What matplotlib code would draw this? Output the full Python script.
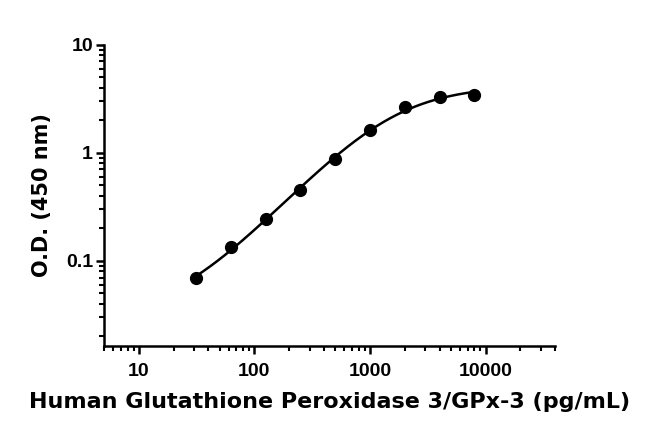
import numpy as np
import matplotlib
matplotlib.use("Agg")
import matplotlib.pyplot as plt
from matplotlib.ticker import LogLocator, FixedLocator, NullFormatter

# standard concentrations (pg/mL) and mean O.D. readings
conc = [31.25, 62.5, 125, 250, 500, 1000, 2000, 4000, 8000]
od = [0.070, 0.133, 0.246, 0.454, 0.867, 1.62, 2.63, 3.25, 3.44]

x_ticks = [10, 100, 1000, 10000]
x_tick_labels = ["10", "100", "1000", "10000"]
y_ticks = [0.1, 1, 10]
y_tick_labels = ["0.1", "1", "10"]

xlabel = "Human Glutathione Peroxidase 3/GPx-3 (pg/mL)"
ylabel = "O.D. (450 nm)"


def four_pl(x, p):
    a, b, c, d = p
    return d + (a - d) / (1.0 + (x / c) ** b)


def fit_four_pl(x, y, p0, n_iter=200):
    # small Levenberg-Marquardt on log residuals
    p = np.array(p0, dtype=float)
    lam = 1e-2
    def resid(q):
        return np.log10(four_pl(x, q)) - np.log10(y)
    r = resid(p)
    for _ in range(n_iter):
        J = np.empty((len(x), len(p)))
        for k in range(len(p)):
            dp = np.zeros_like(p)
            dp[k] = 1e-6 * max(abs(p[k]), 1e-3)
            J[:, k] = (resid(p + dp) - r) / dp[k]
        A = J.T @ J
        g = J.T @ r
        step = np.linalg.solve(A + lam * np.diag(np.diag(A)), -g)
        p_new = p + step
        if p_new[0] > 0 and p_new[2] > 0 and p_new[3] > 0:
            r_new = resid(p_new)
            if np.sum(r_new ** 2) < np.sum(r ** 2):
                p, r = p_new, r_new
                lam *= 0.3
                continue
        lam *= 10
    return p


x = np.array(conc)
y = np.array(od)
params = fit_four_pl(x, y, [0.02, 1.0, 1000.0, 4.5])

fig = plt.figure(figsize=(6.5, 4.37), dpi=100)
ax = fig.add_axes([0.16, 0.208, 0.694, 0.69])

xs = np.logspace(np.log10(x.min()), np.log10(x.max()), 300)
ax.plot(xs, four_pl(xs, params), color="black", lw=1.8, zorder=2)
ax.plot(conc, od, "o", color="black", ms=8.5, zorder=3)

ax.set_xscale("log")
ax.set_yscale("log")
ax.set_xlim(5, 40000)
ax.set_ylim(0.0163, 10)

for side in ["top", "right"]:
    ax.spines[side].set_visible(False)
for side in ["left", "bottom"]:
    ax.spines[side].set_linewidth(1.8)

ax.xaxis.set_major_locator(FixedLocator(x_ticks))
ax.set_xticklabels(x_tick_labels)
ax.yaxis.set_major_locator(FixedLocator(y_ticks))
ax.set_yticklabels(y_tick_labels)
ax.xaxis.set_minor_locator(LogLocator(base=10, subs=np.arange(2, 10), numticks=20))
ax.yaxis.set_minor_locator(LogLocator(base=10, subs=np.arange(2, 10), numticks=20))
ax.xaxis.set_minor_formatter(NullFormatter())
ax.yaxis.set_minor_formatter(NullFormatter())

ax.tick_params(which="major", length=6, width=1.8, labelsize=14)
ax.tick_params(axis="x", which="major", pad=6)
ax.tick_params(axis="y", which="major", pad=2)
ax.tick_params(which="minor", length=3.5, width=1.5)
for lab in ax.get_xticklabels() + ax.get_yticklabels():
    lab.set_fontfamily("Liberation Sans")
    lab.set_fontweight("bold")

ax.set_xlabel(xlabel, fontsize=16, fontweight="bold", family="DejaVu Sans", labelpad=9)
ax.set_ylabel(ylabel, fontsize=15, fontweight="bold", family="DejaVu Sans", labelpad=10)

fig.savefig("out.png", dpi=100)
